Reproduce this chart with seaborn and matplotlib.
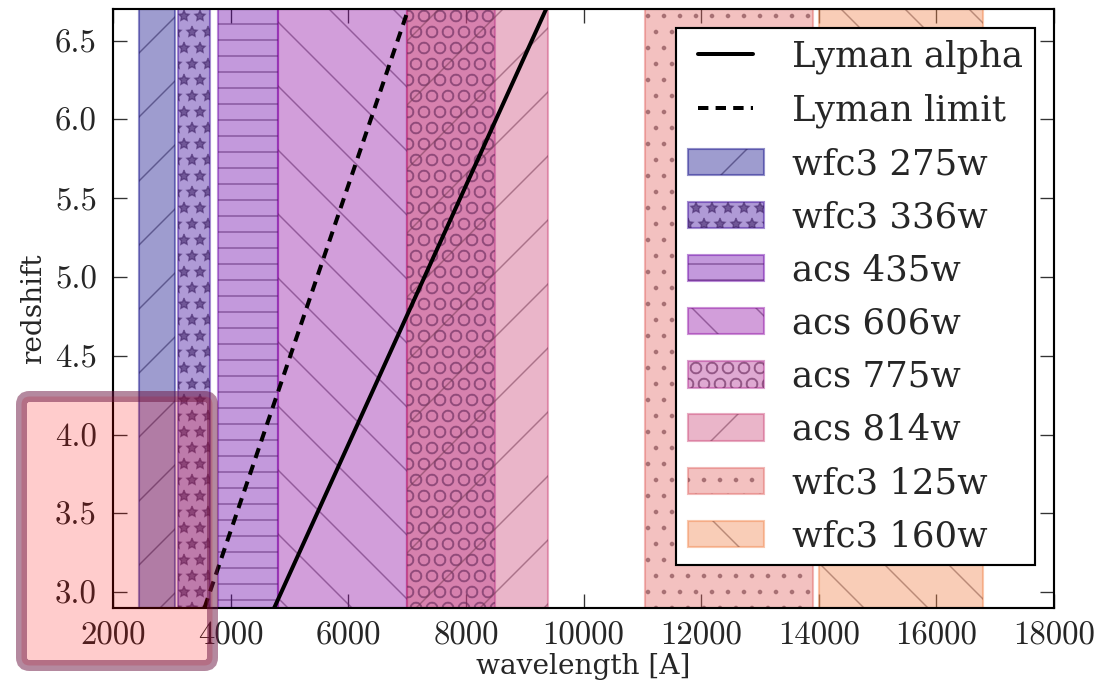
import numpy as np
import pandas as pd
import matplotlib
matplotlib.use("Agg")
import matplotlib.pyplot as plt
import matplotlib.patches as mpatches
import matplotlib.transforms as mtransforms
from matplotlib.legend_handler import HandlerTuple
import seaborn as sns

# ---------------- data ----------------
filters = ["wfc3 275w", "wfc3 336w", "acs 435w", "acs 606w",
           "acs 775w", "acs 814w", "wfc3 125w", "wfc3 160w"]
band_lo = [2450, 3100, 3780, 4800, 7000, 7000, 11050, 14000]
band_hi = [3050, 3650, 4800, 7000, 8500, 9400, 13900, 16800]
hatches = ["/", "**", "--", "\\", "OO", "/", "..", "\\"]
cmap_pos = [0.0, 0.08, 0.2, 0.3, 0.4, 0.5, 0.6, 0.7]

redshift = [2.9, 6.7]
lyman_alpha_wave = [4740, 9365]
lyman_limit_wave = [3555, 7022]

xticks = [2000, 4000, 6000, 8000, 10000, 12000, 14000, 16000, 18000]
xticklabels = ["2000", "4000", "6000", "8000", "10000", "12000", "14000", "16000", "18000"]
yticks = [3.0, 3.5, 4.0, 4.5, 5.0, 5.5, 6.0, 6.5]
yticklabels = ["3.0", "3.5", "4.0", "4.5", "5.0", "5.5", "6.0", "6.5"]

# ---------------- style ----------------
sns.set_theme(style="ticks")
plt.rcParams["font.family"] = ["DejaVu Serif"]
plt.rcParams["hatch.linewidth"] = 0.55
plt.rcParams["axes.linewidth"] = 0.8

DPI = 192
fig = plt.figure(figsize=(1114 / DPI, 683 / DPI), dpi=DPI)
ax = fig.add_axes([113 / 1114, 75 / 683, 941 / 1114, 599 / 683])

cmap = plt.get_cmap("plasma")
handles = []
for name, lo, hi, h, p in zip(filters, band_lo, band_hi, hatches, cmap_pos):
    c = np.array(cmap(p))
    ax.axvspan(lo, hi, facecolor=(*c[:3], 0.4), edgecolor=(*c[:3], 0.45),
               lw=0.8, zorder=1)
    hc = (*(c[:3] * 0.4 + 0.6 * np.array([0.25, 0.2, 0.25])), 0.55)
    ax.axvspan(lo, hi, facecolor="none", edgecolor=hc, hatch=h, lw=0, zorder=1.1)
    fp = mpatches.Patch(facecolor=(*c[:3], 0.4), edgecolor=(*c[:3], 0.45), lw=0.8)
    hp = mpatches.Patch(facecolor="none", edgecolor=hc, hatch=h, lw=0)
    handles.append((fp, hp))

df = pd.DataFrame({
    "z": redshift + redshift,
    "wave": lyman_alpha_wave + lyman_limit_wave,
    "line": ["Lyman alpha"] * 2 + ["Lyman limit"] * 2,
})
sns.lineplot(data=df[df.line == "Lyman alpha"], x="wave", y="z", sort=False,
             color="black", lw=1.5, ax=ax, zorder=3, label="Lyman alpha", legend=False)
sns.lineplot(data=df[df.line == "Lyman limit"], x="wave", y="z", sort=False,
             color="black", lw=1.5, ax=ax, zorder=3, label="Lyman limit", legend=False)
lines = ax.get_lines()
lines[1].set_dashes((2.6, 1.8))

ax.set_xlim(2000, 18000)
ax.set_ylim(2.9, 6.7)
ax.set_xticks(xticks, xticklabels)
ax.set_yticks(yticks, yticklabels)
ax.tick_params(direction="in", length=5.2, width=0.5, top=True, right=True,
               labelsize=12.3, labelfontfamily="cmr10", color="#333333")
ax.tick_params(axis="x", pad=5)
ax.tick_params(axis="y", pad=6)
for s in ax.spines.values():
    s.set_color("black")
    s.set_linewidth(0.8)

ax.set_xlabel("wavelength [A]", fontsize=10.5, labelpad=1)
ax.set_ylabel("redshift", fontsize=10.5, labelpad=3)

leg = ax.legend(list(lines[:2]) + handles, ["Lyman alpha", "Lyman limit"] + filters,
                handler_map={tuple: HandlerTuple(ndivide=1, pad=0)},
                loc="upper right", fontsize=13.3, numpoints=2, handlelength=2.15,
                handleheight=0.76, handletextpad=0.8, labelspacing=0.54,
                borderaxespad=0.54, borderpad=0.33, fancybox=False, framealpha=1)
leg.get_frame().set_edgecolor("black")
leg.get_frame().set_linewidth(0.8)
leg.set_zorder(5)

# highlight box overlay (bottom-left)
box = mpatches.FancyBboxPatch((21.5, 17.5), 191, 269,
                              boxstyle="round,pad=0,rounding_size=8",
                              transform=mtransforms.IdentityTransform(),
                              facecolor=(1, 0, 0, 0.2), edgecolor=(0.42, 0.08, 0.25, 0.5),
                              lw=11 * 72 / DPI, zorder=10)
fig.add_artist(box)

fig.savefig("out.png", dpi=DPI)
